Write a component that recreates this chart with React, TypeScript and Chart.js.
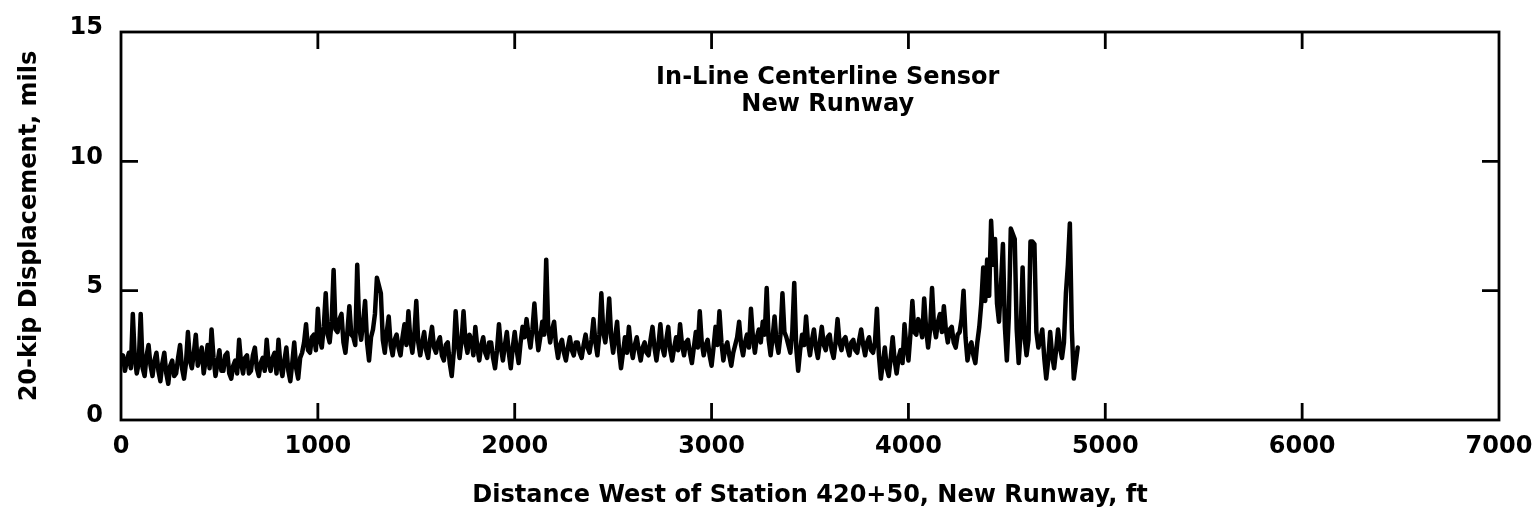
import React, { useEffect, useRef } from "react";
import { Chart, registerables } from "chart.js";

Chart.register(...registerables);

// Sampling interval along the runway (ft)
const STEP_FT = 10;

// 20-kip displacement (mils), one reading every STEP_FT feet starting at 0 ft
const displacement: number[] = [
  2.2, 2.5, 1.9, 2.3, 2.6, 2.0, 4.1, 2.4, 1.8, 2.2, 4.1, 2.0, 1.7, 2.5, 2.9, 2.1, 1.7, 2.3, 2.6, 1.9,
  1.5, 2.2, 2.6, 1.8, 1.4, 2.1, 2.3, 1.7, 1.8, 2.4, 2.9, 2.0, 1.6, 2.2, 3.4, 2.3, 2.0, 2.6, 3.3, 2.1,
  2.4, 2.8, 1.8, 2.3, 2.9, 2.0, 3.5, 2.4, 1.7, 2.2, 2.7, 1.9, 1.9, 2.5, 2.6, 1.8, 1.6, 2.1, 2.3, 1.8,
  3.1, 2.2, 1.8, 2.4, 2.5, 1.8, 1.9, 2.5, 2.8, 2.0, 1.7, 2.2, 2.4, 1.9, 3.1, 2.2, 1.9, 2.4, 2.6, 1.8,
  3.1, 2.1, 1.7, 2.3, 2.8, 1.9, 1.5, 2.2, 3.0, 2.0, 1.6, 2.4, 2.6, 3.0, 3.7, 2.7, 2.6, 3.2, 3.3, 2.7,
  4.3, 3.1, 2.8, 3.6, 4.9, 3.3, 3.0, 3.8, 5.8, 3.5, 3.4, 3.9, 4.1, 3.0, 2.6, 3.4, 4.4, 3.3, 3.2, 2.9,
  6.0, 3.6, 3.1, 3.8, 4.6, 3.0, 2.3, 3.2, 3.5, 4.1, 5.5, 5.2, 4.9, 3.1, 2.6, 3.4, 4.0, 2.9, 2.5, 3.1,
  3.3, 2.8, 2.5, 3.2, 3.7, 2.9, 4.2, 3.1, 2.6, 3.3, 4.6, 3.0, 2.5, 3.0, 3.4, 2.7, 2.4, 3.1, 3.6, 2.8,
  2.6, 3.0, 3.2, 2.5, 2.3, 2.9, 3.0, 2.2, 1.7, 2.6, 4.2, 3.0, 2.4, 3.1, 4.2, 3.0, 2.6, 3.3, 3.1, 2.5,
  3.6, 2.8, 2.3, 2.9, 3.2, 2.6, 2.4, 3.0, 3.0, 2.4, 2.0, 2.7, 3.7, 2.8, 2.3, 2.9, 3.4, 2.6, 2.0, 2.8,
  3.4, 2.7, 2.2, 3.0, 3.6, 3.2, 3.9, 3.3, 2.8, 3.5, 4.5, 3.4, 2.7, 3.2, 3.8, 3.3, 6.2, 3.6, 3.0, 3.5,
  3.8, 2.9, 2.4, 2.9, 3.1, 2.6, 2.3, 2.8, 3.2, 2.7, 2.5, 3.0, 3.0, 2.6, 2.4, 2.9, 3.3, 2.8, 2.6, 3.1,
  3.9, 3.0, 2.5, 3.3, 4.9, 3.4, 3.0, 3.6, 4.7, 3.2, 2.6, 3.2, 3.8, 2.7, 2.0, 2.6, 3.2, 2.6, 3.6, 2.8,
  2.4, 2.9, 3.2, 2.7, 2.3, 2.8, 3.0, 2.6, 2.5, 3.1, 3.6, 2.8, 2.3, 2.9, 3.7, 2.8, 2.5, 3.1, 3.6, 2.7,
  2.3, 2.8, 3.2, 2.7, 3.7, 2.9, 2.5, 3.0, 3.1, 2.6, 2.2, 2.8, 3.4, 2.8, 4.2, 3.0, 2.5, 2.9, 3.1, 2.5,
  2.1, 2.8, 3.6, 2.9, 4.2, 3.0, 2.3, 2.8, 3.0, 2.5, 2.1, 2.6, 2.9, 3.2, 3.8, 2.9, 2.5, 3.0, 3.3, 2.8,
  4.3, 3.2, 2.6, 3.2, 3.5, 3.0, 3.8, 3.3, 5.1, 3.1, 2.5, 3.2, 4.0, 3.0, 2.6, 3.3, 4.9, 3.4, 3.2, 2.9,
  2.6, 3.4, 5.3, 2.8, 1.9, 2.7, 3.3, 2.9, 4.0, 3.0, 2.5, 3.1, 3.5, 2.8, 2.4, 3.0, 3.6, 2.9, 2.7, 3.2,
  3.3, 2.7, 2.4, 3.0, 3.9, 3.0, 2.7, 3.1, 3.2, 2.8, 2.5, 3.0, 3.1, 2.7, 2.6, 3.1, 3.5, 2.9, 2.5, 3.0,
  3.2, 2.7, 2.6, 3.0, 4.3, 2.5, 1.6, 2.2, 2.8, 2.0, 1.7, 2.4, 3.2, 2.3, 1.8, 2.4, 2.7, 2.2, 3.7, 2.8,
  2.3, 3.3, 4.6, 3.4, 3.3, 3.9, 3.6, 3.2, 4.7, 3.5, 2.8, 3.5, 5.1, 3.6, 3.2, 3.8, 4.1, 3.4, 4.4, 3.5,
  3.0, 3.5, 3.6, 3.0, 2.8, 3.3, 3.4, 3.9, 5.0, 3.2, 2.3, 2.8, 3.0, 2.5, 2.2, 3.0, 3.6, 4.5, 5.9, 4.6,
  6.2, 4.8, 7.7, 6.0, 7.0, 4.5, 3.8, 5.2, 6.8, 3.6, 2.3, 4.0, 7.4, 7.2, 7.0, 3.5, 2.2, 3.4, 5.9, 3.2,
  2.5, 3.1, 6.9, 6.9, 6.8, 3.4, 2.8, 3.1, 3.5, 2.4, 1.6, 2.3, 3.4, 2.5, 2.0, 2.7, 3.5, 2.8, 2.4, 3.0,
  4.9, 6.0, 7.6, 3.5, 1.6, 2.2, 2.8,
];

const xTicks: number[] = [0, 1000, 2000, 3000, 4000, 5000, 6000, 7000];
const yTicks: number[] = [0, 5, 10, 15];

const annotationLines: string[] = ["In-Line Centerline Sensor", "New Runway"];
const xTitle = "Distance West of Station 420+50, New Runway, ft";
const yTitle = "20-kip Displacement, mils";

const FONT = "'DejaVu Sans', Arial, sans-serif";
const FSIZE = 24;

export default function App() {
  const ref = useRef<HTMLCanvasElement | null>(null);

  useEffect(() => {
    const canvas = ref.current;
    if (!canvas) return;

    const points = displacement.map((v, i) => ({ x: i * STEP_FT, y: v }));

    const framePlugin = {
      id: "frameTicks",
      afterDraw(chart: any) {
        const { ctx, chartArea } = chart;
        const xs = chart.scales.x;
        const ys = chart.scales.y;
        const L = 17;
        ctx.save();
        ctx.strokeStyle = "#000";
        ctx.lineWidth = 2.8;
        ctx.lineCap = "butt";
        ctx.strokeRect(chartArea.left, chartArea.top, chartArea.right - chartArea.left, chartArea.bottom - chartArea.top);
        ctx.beginPath();
        xTicks.forEach((t) => {
          if (t === xTicks[0] || t === xTicks[xTicks.length - 1]) return;
          const px = xs.getPixelForValue(t);
          ctx.moveTo(px, chartArea.bottom);
          ctx.lineTo(px, chartArea.bottom - L);
          ctx.moveTo(px, chartArea.top);
          ctx.lineTo(px, chartArea.top + L);
        });
        yTicks.forEach((t) => {
          if (t === yTicks[0] || t === yTicks[yTicks.length - 1]) return;
          const py = ys.getPixelForValue(t);
          ctx.moveTo(chartArea.left, py);
          ctx.lineTo(chartArea.left + L, py);
          ctx.moveTo(chartArea.right, py);
          ctx.lineTo(chartArea.right - L, py);
        });
        ctx.stroke();

        ctx.fillStyle = "#000";
        ctx.font = `bold ${FSIZE}px ${FONT}`;
        ctx.textAlign = "center";
        ctx.textBaseline = "middle";
        const ax = xs.getPixelForValue(3590);
        ctx.fillText(annotationLines[0], ax, ys.getPixelForValue(13.25));
        ctx.fillText(annotationLines[1], ax, ys.getPixelForValue(12.2));
        ctx.restore();
      },
    };

    const font = { family: FONT, size: FSIZE, weight: "bold" as const };

    const chart = new Chart(canvas, {
      type: "line",
      data: {
        datasets: [
          {
            data: points,
            borderColor: "#000",
            borderWidth: 4.5,
            borderJoinStyle: "round",
            borderCapStyle: "round",
            pointRadius: 0,
            tension: 0,
            fill: false,
          },
        ],
      },
      options: {
        responsive: false,
        animation: false,
        devicePixelRatio: 1,
        layout: { padding: { top: 32, right: 36, left: 0, bottom: 0 } },
        plugins: { legend: { display: false }, tooltip: { enabled: false } },
        scales: {
          x: {
            type: "linear",
            min: 0,
            max: 7000,
            afterFit: (s: any) => {
              s.height = 99;
              s.paddingLeft = 0;
              s.paddingRight = 0;
            },
            afterBuildTicks: (s: any) => {
              s.ticks = xTicks.map((v) => ({ value: v }));
            },
            grid: { display: false, drawTicks: false },
            border: { display: false },
            ticks: {
              color: "#000",
              font,
              padding: 12,
              maxRotation: 0,
              autoSkip: false,
              callback: (v: any) => String(v),
            },
            title: {
              display: true,
              text: xTitle,
              color: "#000",
              font,
              padding: { top: 0, bottom: 9 },
            },
          },
          y: {
            type: "linear",
            min: 0,
            max: 15,
            afterFit: (s: any) => {
              s.width = 121;
              s.paddingTop = 0;
              s.paddingBottom = 0;
            },
            afterBuildTicks: (s: any) => {
              s.ticks = yTicks.map((v) => ({ value: v }));
            },
            grid: { display: false, drawTicks: false },
            border: { display: false },
            ticks: {
              color: "#000",
              font,
              padding: 18,
              labelOffset: -4,
              callback: (v: any) => String(v),
            },
            title: {
              display: true,
              text: yTitle,
              color: "#000",
              font,
              padding: { top: 15, bottom: 0 },
            },
          },
        },
      },
      plugins: [framePlugin],
    });

    return () => chart.destroy();
  }, []);

  return (
    <div style={{ position: "absolute", left: 0, top: 0, width: 1535, height: 519, background: "#fff" }}>
      <canvas ref={ref} width={1535} height={519} style={{ width: 1535, height: 519, display: "block" }} />
    </div>
  );
}
